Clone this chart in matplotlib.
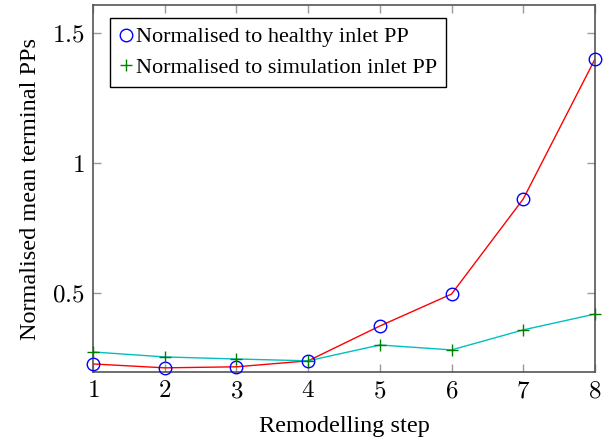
import matplotlib
matplotlib.use("Agg")
import matplotlib.pyplot as plt
from matplotlib.ticker import FuncFormatter

plt.rcParams['font.family'] = ['Liberation Serif', 'DejaVu Serif']
plt.rcParams['mathtext.fontset'] = 'cm'

# data
steps = [1, 2, 3, 4, 5, 6, 7, 8]
healthy = [0.227, 0.212, 0.216, 0.239, 0.373, 0.496, 0.862, 1.40]
simulation = [0.273, 0.254, 0.246, 0.239, 0.300, 0.281, 0.358, 0.419]

fig = plt.figure(figsize=(6.08, 4.41), dpi=100)
ax = fig.add_axes([93 / 608, 69 / 441, 502 / 608, 367 / 441])

ax.plot(steps, healthy, color='red', lw=1.0, zorder=2)
ax.plot(steps, simulation, color='#00c0c0', lw=1.0, zorder=2)
ax.plot(steps, healthy, ls='none', marker='o', ms=9, mfc='none', mec='blue', mew=1.0,
        label='Normalised to healthy inlet PP', zorder=3, clip_on=False)
ax.plot(steps, simulation, ls='none', marker='+', ms=9, mec='green', mew=1.0,
        label='Normalised to simulation inlet PP', zorder=3, clip_on=False)

ax.set_xlim(1, 8)
ax.set_ylim(0.196, 1.608)
ax.set_xticks(steps)
ax.set_yticks([0.5, 1, 1.5])
ax.xaxis.set_major_formatter(FuncFormatter(lambda v, p: r'$%d$' % v))
ax.yaxis.set_major_formatter(FuncFormatter(lambda v, p: r'$%g$' % v))
ax.tick_params(direction='in', length=6, width=1, color='#999999', labelsize=18,
               top=True, right=True, pad=6)
for s in ax.spines.values():
    s.set_color('#555555')
    s.set_linewidth(1.2)

ax.set_xlabel('Remodelling step', fontsize=17.5, labelpad=10)
ax.set_ylabel('Normalised mean terminal PPs', fontsize=17.5, labelpad=8)

leg = ax.legend(loc='upper left', bbox_to_anchor=(17 / 502, 1 - 13 / 367), fontsize=16,
                fancybox=False, edgecolor='black', framealpha=1, handlelength=0.6,
                handletextpad=0.15, borderpad=0.4, labelspacing=0.45, borderaxespad=0)
leg.get_frame().set_linewidth(1.0)

fig.savefig('out.png', dpi=100)
